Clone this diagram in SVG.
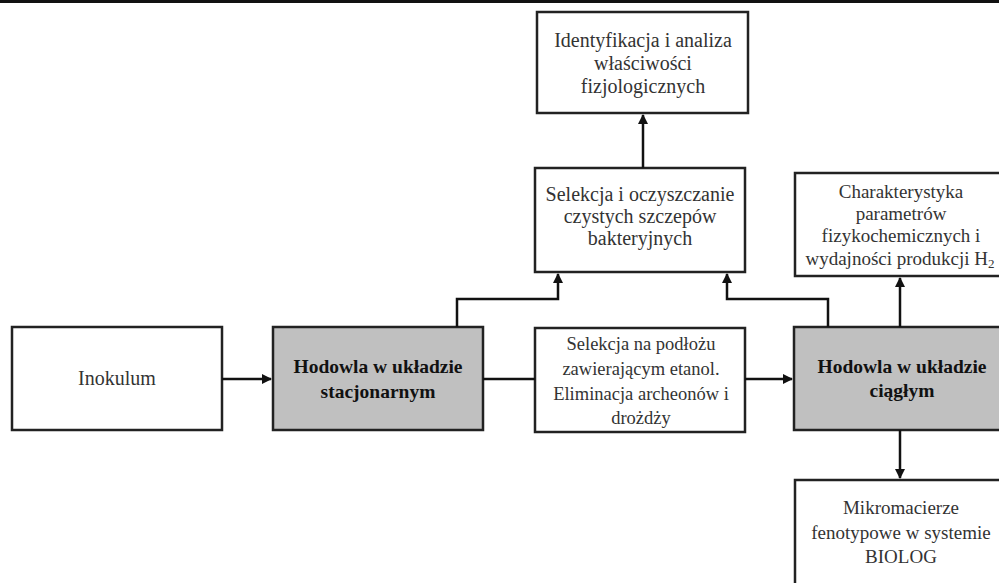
<svg xmlns="http://www.w3.org/2000/svg" width="999" height="583" viewBox="0 0 999 583">
<style>
.box{fill:#fff;stroke:#222;stroke-width:2.5}
.g{fill:#c0c0c0}
.t{font-family:"Liberation Serif","Times New Roman",serif;font-size:20px;fill:#333;text-anchor:middle}
.s{font-size:19px}
.m{font-size:18.5px}
.b{font-weight:bold;fill:#111;font-size:19.5px}
.c{fill:none;stroke:#111;stroke-width:2.5}
</style>
<defs>
<marker id="ah" viewBox="0 0 10 10" refX="9" refY="5" markerWidth="4" markerHeight="4" orient="auto">
<path d="M0,0 L10,5 L0,10 z" fill="#111"/>
</marker>
</defs>
<rect x="0" y="0" width="999" height="3" fill="#111"/>
<g id="n-ident">
<rect class="box" x="537" y="12" width="211" height="101"/>
<text class="t" x="643" y="47">Identyfikacja i analiza</text>
<text class="t" x="643" y="70">właściwości</text>
<text class="t" x="643" y="93">fizjologicznych</text>
</g>
<g id="n-selekcja">
<rect class="box" x="535" y="168" width="210" height="104"/>
<text class="t" x="640" y="201">Selekcja i oczyszczanie</text>
<text class="t" x="640" y="223">czystych szczepów</text>
<text class="t" x="640" y="245">bakteryjnych</text>
</g>
<g id="n-charakt">
<rect class="box" x="795" y="173" width="210" height="103"/>
<text class="t s" x="901" y="198">Charakterystyka</text>
<text class="t s" x="901" y="220">parametrów</text>
<text class="t s" x="901" y="242">fizykochemicznych i</text>
<text class="t s" x="900" y="265">wydajności produkcji H<tspan font-size="13" dy="3">2</tspan></text>
</g>
<g id="n-inokulum">
<rect class="box" x="12" y="327" width="210" height="103"/>
<text class="t" x="117" y="385">Inokulum</text>
</g>
<g id="n-stacj">
<rect class="box g" x="273" y="327" width="210" height="103"/>
<text class="t b" x="378" y="373">Hodowla w układzie</text>
<text class="t b" x="378" y="398">stacjonarnym</text>
</g>
<g id="n-etanol">
<rect class="box" x="535" y="328" width="210" height="104"/>
<text class="t m" x="641" y="350">Selekcja na podłożu</text>
<text class="t m" x="641" y="375">zawierającym etanol.</text>
<text class="t m" x="641" y="400">Eliminacja archeonów i</text>
<text class="t m" x="641" y="424">drożdży</text>
</g>
<g id="n-ciagly">
<rect class="box g" x="794" y="327" width="210" height="103"/>
<text class="t b" x="902" y="373">Hodowla w układzie</text>
<text class="t b" x="902" y="397">ciągłym</text>
</g>
<g id="n-biolog">
<rect class="box" x="795" y="480" width="210" height="110"/>
<text class="t s" x="901" y="514">Mikromacierze</text>
<text class="t s" x="901" y="539">fenotypowe w systemie</text>
<text class="t s" x="901" y="563">BIOLOG</text>
</g>
<g id="connectors">
<path class="c" d="M222,379 H271" marker-end="url(#ah)"/>
<path class="c" d="M483,379 H535"/>
<path class="c" d="M745,379 H792" marker-end="url(#ah)"/>
<path class="c" d="M457,327 V299 H558 V274" marker-end="url(#ah)"/>
<path class="c" d="M828,327 V299 H727 V274" marker-end="url(#ah)"/>
<path class="c" d="M643,168 V115" marker-end="url(#ah)"/>
<path class="c" d="M900,327 V278" marker-end="url(#ah)"/>
<path class="c" d="M900,430 V478" marker-end="url(#ah)"/>
</g>
</svg>
